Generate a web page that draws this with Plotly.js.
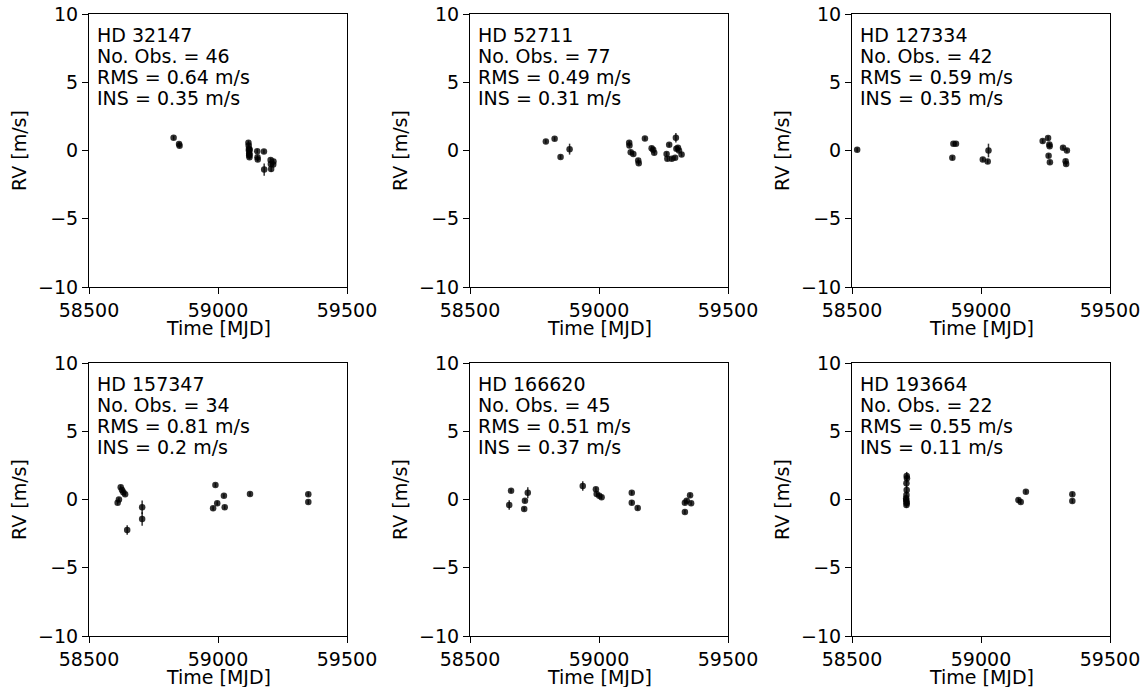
<!DOCTYPE html>
<html><head><meta charset="utf-8">
<script src="https://cdn.plot.ly/plotly-3.0.1.min.js"></script>
<style>body{margin:0;background:#fff}#chart{width:1144px;height:687px}</style>
</head><body><div id="chart"></div>
<script>
const starNames = ["HD 32147","HD 52711","HD 127334","HD 157347","HD 166620","HD 193664"];
const nObs = [46, 77, 42, 34, 45, 22];
const rmsVals = ["0.64","0.49","0.59","0.81","0.51","0.55"];
const insVals = ["0.35","0.31","0.35","0.2","0.37","0.11"];

const t1 = [58828,58849,58851,59118,59119,59120,59120,59121,59121,59122,59122,59123,59152,59153,59154,59178,59179,59204,59205,59206,59214,59215];
const rv1 = [0.93,0.48,0.35,0.57,0.37,0.12,0.0,-0.2,-0.37,-0.49,-0.3,0.05,-0.05,-0.5,-0.66,-0.07,-1.4,-0.69,-0.98,-1.35,-1.03,-0.8];
const e1 = [0.15,0.15,0.15,0.15,0.15,0.15,0.15,0.15,0.15,0.15,0.15,0.15,0.15,0.15,0.15,0.15,0.45,0.15,0.15,0.2,0.15,0.15];

const t2 = [58794,58828,58851,58886,59117,59118,59123,59133,59152,59154,59178,59204,59210,59214,59262,59265,59272,59282,59295,59298,59300,59306,59310,59320];
const rv2 = [0.66,0.86,-0.47,0.1,0.56,0.37,-0.12,-0.25,-0.74,-0.93,0.88,0.17,0.05,-0.17,-0.25,-0.61,0.42,-0.6,-0.54,0.93,0.12,0.2,0.0,-0.29];
const e2 = [0.15,0.15,0.15,0.4,0.15,0.15,0.15,0.15,0.15,0.15,0.15,0.15,0.15,0.15,0.15,0.15,0.15,0.15,0.15,0.35,0.15,0.15,0.15,0.15];

const t3 = [58520,58889,58893,58903,59007,59026,59029,59239,59260,59262,59265,59266,59267,59318,59328,59330,59333];
const rv3 = [0.05,-0.54,0.49,0.49,-0.66,-0.81,0.0,0.69,0.91,-0.39,0.44,0.32,-0.86,0.2,-0.78,-0.98,0.0];
const e3 = [0.15,0.15,0.15,0.15,0.15,0.15,0.5,0.15,0.15,0.15,0.15,0.15,0.15,0.15,0.15,0.15,0.15];

const t4 = [58611,58616,58623,58628,58633,58640,58648,58706,58706,58981,58990,58997,59023,59026,59124,59350,59350];
const rv4 = [-0.23,0.0,0.89,0.7,0.53,0.38,-2.23,-0.57,-1.43,-0.65,1.06,-0.28,0.28,-0.57,0.4,0.38,-0.18];
const e4 = [0.15,0.15,0.15,0.15,0.15,0.15,0.35,0.5,0.5,0.15,0.15,0.15,0.15,0.15,0.15,0.15,0.15];

const t5 = [58652,58659,58710,58713,58724,58937,58988,58991,59001,59010,59127,59127,59150,59333,59333,59340,59353,59357];
const rv5 = [-0.4,0.64,-0.7,-0.09,0.5,0.99,0.75,0.4,0.28,0.16,0.5,-0.23,-0.62,-0.23,-0.92,-0.09,0.31,-0.28];
const e5 = [0.35,0.15,0.15,0.15,0.4,0.35,0.15,0.15,0.15,0.15,0.15,0.15,0.15,0.15,0.15,0.15,0.15,0.15];

const t6 = [58712,58713,58711,58712,58711,58710,58710,58711,58712,58711,59145,59154,59174,59354,59354];
const rv6 = [1.72,1.55,1.19,0.7,0.33,0.09,-0.04,-0.16,-0.28,-0.4,-0.04,-0.18,0.57,0.38,-0.11];
const e6 = [0.3,0.3,0.3,0.3,0.3,0.2,0.2,0.2,0.2,0.2,0.15,0.15,0.15,0.15,0.15];

const xTitle = "Time [MJD]";
const yTitle = "RV [m/s]";

const times = [t1,t2,t3,t4,t5,t6];
const rvs = [rv1,rv2,rv3,rv4,rv5,rv6];
const errs = [e1,e2,e3,e4,e5,e6];

const xDomains = [[89/1144,347/1144],[470/1144,728/1144],[852/1144,1110/1144]];
const yDomains = [[1-287/687,1-14/687],[1-636/687,1-363/687]];
const FONT = "DejaVu Sans, sans-serif";
const FS = 19;

const data = [];
const layout = {
  width:1144, height:687, margin:{l:0,r:0,t:0,b:0},
  paper_bgcolor:"#fff", plot_bgcolor:"#fff", showlegend:false,
  font:{family:FONT, size:FS, color:"#000"}, annotations:[]
};
for (let i=0;i<6;i++){
  const s = i===0 ? "" : String(i+1);
  data.push({
    x: times[i], y: rvs[i], type:"scatter", mode:"markers",
    xaxis:"x"+s, yaxis:"y"+s,
    marker:{color:"rgba(0,0,0,0.8)", size:6.5, line:{width:0}},
    error_y:{type:"data", array:errs[i], visible:true, color:"rgba(0,0,0,0.8)", thickness:1.5, width:0}
  });
  const col = i%3, row = Math.floor(i/3);
  const axCommon = {showgrid:false, zeroline:false, showline:true, mirror:true, linecolor:"#000", linewidth:1,
    ticks:"outside", ticklen:6, tickwidth:1, tickcolor:"#000", tickfont:{family:FONT,size:FS,color:"#000"}, automargin:false};
  layout["xaxis"+s] = Object.assign({}, axCommon, {
    domain: xDomains[col], anchor:"y"+s, range:[58500,59500], tickvals:[58500,59000,59500],
    ticktext:["58500","59000","59500"]
  });
  layout["yaxis"+s] = Object.assign({}, axCommon, {
    domain: yDomains[row], anchor:"x"+s, range:[-10,10], tickvals:[-10,-5,0,5,10],
    title:{text:yTitle, font:{family:FONT,size:FS,color:"#000"}, standoff:6}
  });
  layout.annotations.push({
    xref:"x"+s+" domain", yref:"y"+s+" domain", x:0.5, y:0, xanchor:"center", yanchor:"top",
    yshift:-28, showarrow:false, font:{family:FONT,size:FS,color:"#000"}, text:xTitle
  });
  const lines = [starNames[i], "No. Obs. = "+nObs[i], "RMS = "+rmsVals[i]+" m/s", "INS = "+insVals[i]+" m/s"];
  lines.forEach((ln, k) => {
    layout.annotations.push({
      xref:"x"+s+" domain", yref:"y"+s+" domain", x:0.024, y:1, xanchor:"left", yanchor:"top",
      yshift:-8 - 21.1*k, align:"left", showarrow:false,
      font:{family:FONT,size:FS,color:"#000"}, text: ln
    });
  });
}
Plotly.newPlot("chart", data, layout, {staticPlot:true});
</script></body></html>
